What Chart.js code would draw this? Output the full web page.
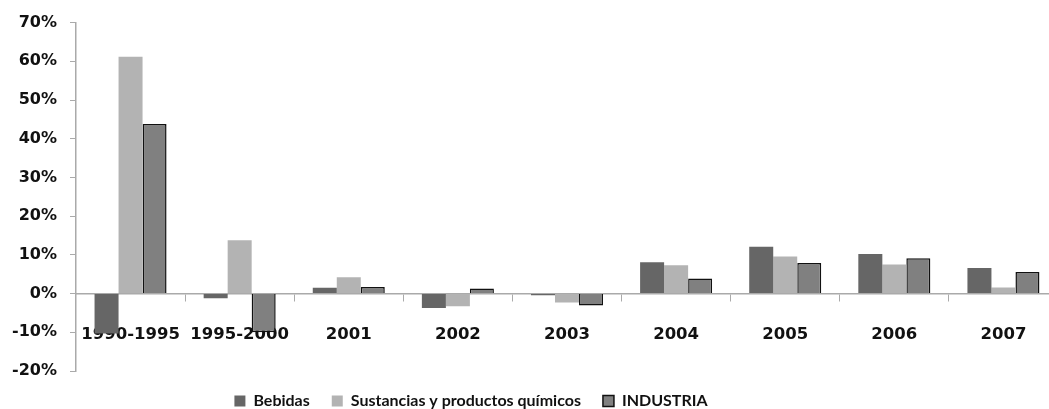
<!DOCTYPE html>
<html>
<head>
<meta charset="utf-8">
<script src="https://cdn.jsdelivr.net/npm/chart.js@4.4.1/dist/chart.umd.min.js"></script>
<style>
  html, body { margin: 0; padding: 0; background: #fff; overflow: hidden; }
  #wrap { width: 1058px; height: 409px; }
</style>
</head>
<body>
<div id="wrap"><canvas id="chart"></canvas></div>
<script>
// categories and series (growth rates, %)
const periods = ["1990-1995", "1995-2000", "2001", "2002", "2003", "2004", "2005", "2006", "2007"];
const bebidas = [-10.3, -1.2, 1.5, -3.7, -0.4, 8.1, 12.1, 10.2, 6.6];
const quimicos = [61.2, 13.8, 4.2, -3.3, -2.3, 7.3, 9.6, 7.5, 1.6];
const industria = [43.8, -10.0, 1.7, 1.3, -3.1, 3.9, 7.9, 9.1, 5.6];
const yTicks = [-20, -10, 0, 10, 20, 30, 40, 50, 60, 70];

const axisFont = { family: "'DejaVu Sans'", weight: "bold", size: 16 };

// the legend sits left of centre in the original
const legendNudge = {
  id: "legendNudge",
  afterLayout(chart) {
    const lg = chart.legend;
    if (!lg) return;
    lg.left -= 58; lg.right -= 58;
  }
};

new Chart(document.getElementById("chart"), {
  type: "bar",
  data: {
    labels: periods,
    datasets: [
      { label: "Bebidas", data: bebidas, backgroundColor: "#666666", borderWidth: 0 },
      { label: "Sustancias y productos químicos", data: quimicos, backgroundColor: "#b3b3b3", borderWidth: 0 },
      { label: "INDUSTRIA", data: industria, backgroundColor: "#808080", borderColor: "#111", borderWidth: 1.5 }
    ]
  },
  plugins: [legendNudge],
  options: {
    responsive: true,
    maintainAspectRatio: false,
    animation: false,
    categoryPercentage: 0.66,
    barPercentage: 1,
    layout: { padding: { top: 14, right: 0, bottom: -10, left: 0 } },
    plugins: {
      tooltip: { enabled: false },
      legend: {
        position: "bottom",
        labels: {
          color: "#111",
          font: { family: "Lato", weight: "bold", size: 16 },
          boxWidth: 11,
          boxHeight: 11,
          padding: 22
        }
      }
    },
    scales: {
      x: {
        position: { y: 0 },
        z: 1,
        border: { color: "#aaaaaa", width: 1.5 },
        grid: { drawOnChartArea: false, color: "#aaaaaa", tickLength: 7, offset: true },
        ticks: { color: "#111", font: { ...axisFont, size: 16.5 }, padding: 24, maxRotation: 0 }
      },
      y: {
        min: -20,
        max: 70,
        afterBuildTicks: s => { s.ticks = yTicks.map(v => ({ value: v })); },
        afterFit: s => { s.width = 76; },
        border: { color: "#aaaaaa", width: 1.5 },
        grid: { drawOnChartArea: false, color: "#aaaaaa", tickLength: 6 },
        ticks: { color: "#111", font: axisFont, padding: 13, callback: v => v + "%" }
      }
    }
  }
});
</script>
</body>
</html>
